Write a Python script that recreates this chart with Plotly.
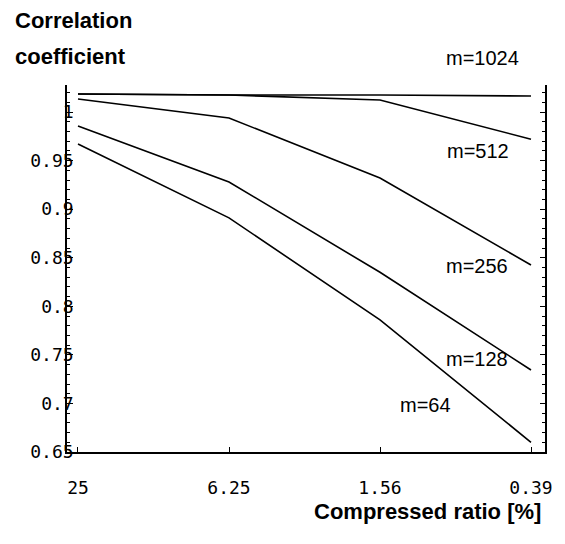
import plotly.graph_objects as go

# ---- data ----
ratios = ["25", "6.25", "1.56", "0.39"]          # compressed ratio [%]
m1024 = [1.0185, 1.0175, 1.0175, 1.0165]
m512 = [1.0185, 1.0175, 1.0124, 0.972]
m256 = [1.0134, 0.9938, 0.932, 0.8425]
m128 = [0.9856, 0.928, 0.835, 0.7344]
m64 = [0.967, 0.891, 0.786, 0.660]
series_names = ["m=1024", "m=512", "m=256", "m=128", "m=64"]
y_tick_vals = [0.65, 0.70, 0.75, 0.80, 0.85, 0.90, 0.95, 1.00]
y_tick_text = ["0.65", "0.7", "0.75", "0.8", "0.85", "0.9", "0.95", "1"]

series = [m1024, m512, m256, m128, m64]

fig = go.Figure()
for name, vals in zip(series_names, series):
    fig.add_trace(go.Scatter(x=ratios, y=vals, mode="lines", name=name,
                             line=dict(color="black", width=1.6),
                             showlegend=False, hoverinfo="skip"))
# invisible helper trace so the right-hand frame axis renders
fig.add_trace(go.Scatter(x=ratios, y=m1024, yaxis="y2", mode="lines",
                         line=dict(color="rgba(0,0,0,0)", width=0),
                         showlegend=False, hoverinfo="skip"))

YR = [0.65, 1.0278]
tick_font = dict(family="DejaVu Sans Mono", size=18, color="black")

fig.update_layout(
    width=557, height=536,
    margin=dict(l=59, r=20, t=77, b=92),
    paper_bgcolor="white", plot_bgcolor="white",
    xaxis=dict(type="category", range=[-0.0728, 3.0927],
               showline=True, linecolor="black", linewidth=1.5,
               ticks="inside", ticklen=5, tickcolor="black", tickwidth=1,
               tickfont=tick_font, showgrid=False, zeroline=False,
               ticklabelstandoff=19),
    yaxis=dict(range=YR, tickmode="array", tickvals=y_tick_vals, ticktext=y_tick_text,
               showline=True, linecolor="black", linewidth=1.5,
               ticks="inside", ticklen=6, tickcolor="black", tickwidth=1,
               minor=dict(tickmode="linear", tick0=0.65, dtick=0.01, ticks="inside",
                          ticklen=3, tickcolor="black", showgrid=False),
               tickfont=tick_font, showgrid=False, zeroline=False,
               ticklabelstandoff=-12),
    yaxis2=dict(range=YR, overlaying="y", side="right",
                tickmode="array", tickvals=y_tick_vals,
                showline=True, linecolor="black", linewidth=1.5,
                ticks="inside", ticklen=5, tickcolor="black", tickwidth=1,
                minor=dict(tickmode="linear", tick0=0.65, dtick=0.01, ticks="inside",
                           ticklen=3, tickcolor="black", showgrid=False),
                showticklabels=False, showgrid=False, zeroline=False),
)

label_font = dict(family="Liberation Sans", size=20, color="black")
# label centres in plot-area (paper) fractions
label_pos = [(0.870, 1.0736), (0.860, 0.8215), (0.858, 0.5055), (0.858, 0.2534), (0.751, 0.1281)]
for name, (lx, ly) in zip(series_names, label_pos):
    fig.add_annotation(x=lx, y=ly, xref="paper", yref="paper", text=name, showarrow=False,
                       font=label_font, xanchor="center", yanchor="middle")

title_font = dict(family="Liberation Sans", size=22, color="black")
fig.add_annotation(x=-0.113, y=1.177, xref="paper", yref="paper", text="<b>Correlation</b>",
                   showarrow=False, font=title_font, xanchor="left", yanchor="middle")
fig.add_annotation(x=-0.113, y=1.079, xref="paper", yref="paper", text="<b>coefficient</b>",
                   showarrow=False, font=title_font, xanchor="left", yanchor="middle")
fig.add_annotation(x=0.996, y=-0.162, xref="paper", yref="paper", text="<b>Compressed ratio [%]</b>",
                   showarrow=False, font=title_font, xanchor="right", yanchor="middle")

fig.write_html("out.html")
